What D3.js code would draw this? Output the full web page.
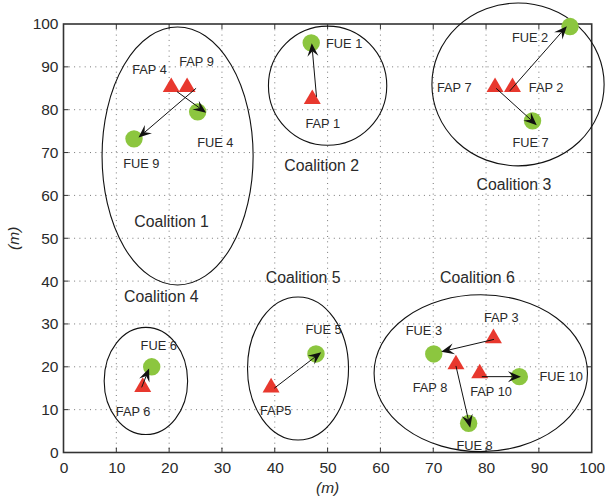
<!DOCTYPE html>
<html><head><meta charset="utf-8">
<script src="https://cdn.jsdelivr.net/npm/d3@7"></script>
<style>body{margin:0;background:#fff}svg{display:block}text{font-family:"Liberation Sans",Arial,Helvetica,sans-serif;fill:#2a2a2a}</style>
</head><body><svg id="c" width="605" height="499"></svg>
<script>
// ---- data (metres) ----
const ticks = [0,10,20,30,40,50,60,70,80,90,100];
const fapNames = ["FAP 4","FAP 9","FAP 1","FAP 7","FAP 2","FAP 6","FAP5","FAP 3","FAP 8","FAP 10"];
const fapX = [20.4,23.4,47.1,81.7,85.0,15.0,39.3,81.4,74.3,78.8];
const fapY = [85.6,85.6,82.8,85.6,85.6,15.6,15.5,27.0,20.9,18.8];
const fueNames = ["FUE 4","FUE 9","FUE 1","FUE 7","FUE 2","FUE 6","FUE 5","FUE 3","FUE 8","FUE 10"];
const fueX = [25.4,13.35,46.9,88.8,95.9,16.7,47.8,70.1,76.7,86.3];
const fueY = [79.5,73.2,95.6,77.4,99.4,20.0,23.0,23.0,6.8,17.7];
const arrowX1 = [21.5,25.1,47.9,81.9,84.5,14.8,39.9,81.5,74.3,79.2];
const arrowY1 = [84.2,85.0,83.0,85.0,84.4,15.2,15.0,26.4,20.2,17.7];
const arrowX2 = [27.0,14.2,47.0,89.6,95.3,16.2,48.8,71.5,77.0,86.6];
const arrowY2 = [79.3,73.5,95.5,76.4,99.5,19.6,23.4,23.5,5.8,17.7];
const coalitionCX = [21.6,50.0,86.05,15.6,44.4,79.0];
const coalitionCY = [69.2,85.6,85.9,16.7,19.6,18.5];
const coalitionRX = [14.3,11.2,16.3,7.9,9.56,20.2];
const coalitionRY = [30.1,13.9,19.0,12.5,16.7,18.3];
const coalitionNames = ["Coalition 1","Coalition 2","Coalition 3","Coalition 4","Coalition 5","Coalition 6"];
const coalitionLabelX = [13.4,41.8,78.2,11.45,38.3,71.3];
const coalitionLabelY = [52.7,65.8,61.3,35.05,39.6,39.6];
const nodeLabels = ["FAP 4","FAP 9","FUE 4","FUE 9","FUE 1","FAP 1","FUE 2","FAP 7","FAP 2","FUE 7","FUE 6","FAP 6","FUE 5","FAP5","FAP 3","FUE 3","FAP 8","FAP 10","FUE 10","FUE 8"];
const nodeLabelX = [13.0,21.9,25.3,11.3,49.7,45.8,84.9,70.7,88.1,85.0,14.6,9.9,45.8,37.2,79.6,64.8,66.1,77.0,90.1,74.4];
const nodeLabelY = [88.3,90.3,71.4,66.3,94.4,75.7,95.7,84.2,84.2,71.4,23.9,8.5,27.7,8.75,30.5,27.4,14.2,13.2,16.7,0.6];
const axisLabel = "(m)";

// ---- drawing ----
const svg = d3.select("#c");
const L = 63.5, R = 591.7, T = 24, B = 452.5;
const x = d3.scaleLinear().domain([0,100]).range([L,R]);
const y = d3.scaleLinear().domain([0,100]).range([B,T]);

const grid = svg.append("g");
ticks.slice(1,-1).forEach(t=>{
  grid.append("line").attr("x1",x(t)).attr("x2",x(t)).attr("y1",T).attr("y2",B)
    .attr("stroke","#777").attr("stroke-width",1).attr("stroke-dasharray","1,4.3");
  grid.append("line").attr("y1",y(t)).attr("y2",y(t)).attr("x1",L).attr("x2",R)
    .attr("stroke","#777").attr("stroke-width",1).attr("stroke-dasharray","1,4.3");
});

// axes
const xa = svg.append("g").attr("transform",`translate(0,${B})`)
  .call(d3.axisBottom(x).tickValues(ticks).tickSize(0).tickPadding(10).tickFormat(d3.format("d")));
const ya = svg.append("g").attr("transform",`translate(${L},0)`)
  .call(d3.axisLeft(y).tickValues(ticks).tickSize(0).tickPadding(5).tickFormat(d3.format("d")));
[xa,ya].forEach(a=>{a.select(".domain").remove();a.selectAll("text").style("font-size","15.5px").attr("fill","#2a2a2a");});
xa.selectAll("text").attr("y",20.5).attr("dy","0");
// inward ticks
const tk = svg.append("g").attr("stroke","#333").attr("stroke-width",1);
ticks.slice(1,-1).forEach(t=>{
  tk.append("line").attr("x1",x(t)).attr("x2",x(t)).attr("y1",B).attr("y2",B-5);
  tk.append("line").attr("x1",x(t)).attr("x2",x(t)).attr("y1",T).attr("y2",T+5);
  tk.append("line").attr("y1",y(t)).attr("y2",y(t)).attr("x1",L).attr("x2",L+5);
  tk.append("line").attr("y1",y(t)).attr("y2",y(t)).attr("x1",R).attr("x2",R-5);
});
svg.append("rect").attr("x",L).attr("y",T).attr("width",R-L).attr("height",B-T)
  .attr("fill","none").attr("stroke","#333").attr("stroke-width",1.6);

// axis labels
svg.append("text").attr("x",(L+R)/2).attr("y",493).attr("text-anchor","middle")
  .style("font-size","15.5px").style("font-style","italic").text(axisLabel);
svg.append("text").attr("transform",`translate(19,${(T+B)/2}) rotate(-90)`).attr("text-anchor","middle")
  .style("font-size","15.5px").style("font-style","italic").text(axisLabel);

// coalition ellipses
svg.append("g").selectAll("ellipse").data(coalitionCX).join("ellipse")
  .attr("cx",(d,i)=>x(d)).attr("cy",(d,i)=>y(coalitionCY[i]))
  .attr("rx",(d,i)=>x(coalitionRX[i])-x(0)).attr("ry",(d,i)=>y(0)-y(coalitionRY[i]))
  .attr("fill","none").attr("stroke","#111").attr("stroke-width",1.1);

// FUE circles
svg.append("g").selectAll("circle").data(fueX).join("circle")
  .attr("cx",d=>x(d)).attr("cy",(d,i)=>y(fueY[i])).attr("r",8.7).attr("fill","#8cc63f");

// FAP triangles
const tri = d3.symbol().type(d3.symbolTriangle).size(125);
svg.append("g").selectAll("path").data(fapX).join("path")
  .attr("d",tri).attr("transform",(d,i)=>`translate(${x(d)},${y(fapY[i])+1.5})`).attr("fill","#e8382e");

// arrows
const ag = svg.append("g");
arrowX1.forEach((d,i)=>{
  const x1=x(d), y1=y(arrowY1[i]), x2=x(arrowX2[i]), y2=y(arrowY2[i]);
  const dx=x2-x1, dy=y2-y1, len=Math.hypot(dx,dy), ux=dx/len, uy=dy/len, px=-uy, py=ux;
  const hl=13, hw=5.5, notch=8;
  ag.append("line").attr("x1",x1).attr("y1",y1).attr("x2",x2-ux*notch).attr("y2",y2-uy*notch)
    .attr("stroke","#111").attr("stroke-width",1);
  const p=[[x2,y2],[x2-ux*hl+px*hw,y2-uy*hl+py*hw],[x2-ux*notch,y2-uy*notch],[x2-ux*hl-px*hw,y2-uy*hl-py*hw]];
  ag.append("path").attr("d","M"+p.map(q=>q.join(",")).join("L")+"Z").attr("fill","#111");
});

// labels
svg.append("g").selectAll("text").data(nodeLabels).join("text")
  .attr("x",(d,i)=>x(nodeLabelX[i])).attr("y",(d,i)=>y(nodeLabelY[i]))
  .style("font-size","12.8px").text(d=>d);
svg.append("g").selectAll("text").data(coalitionNames).join("text")
  .attr("x",(d,i)=>x(coalitionLabelX[i])).attr("y",(d,i)=>y(coalitionLabelY[i]))
  .style("font-size","15.8px").text(d=>d);
</script></body></html>
